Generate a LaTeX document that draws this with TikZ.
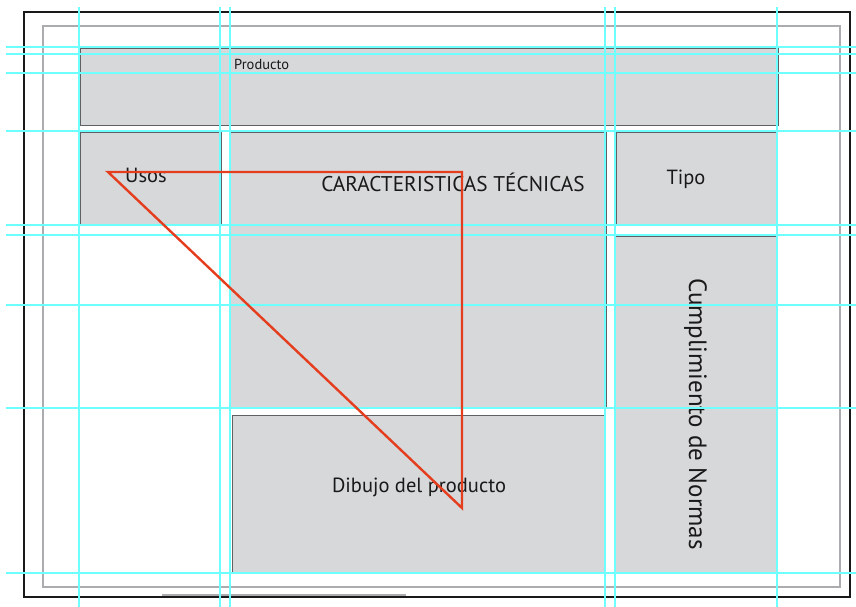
\documentclass[tikz,border=0pt]{standalone}
\usepackage{fontspec}
\setmainfont{PT Sans}
\usepackage{tikz}
\usetikzlibrary{positioning, calc}
\definecolor{panelfill}{RGB}{215,216,218}
\definecolor{panelline}{RGB}{95,96,99}
\definecolor{guidecyan}{RGB}{110,255,255}
\definecolor{pathred}{RGB}{228,62,30}
\definecolor{framegray}{RGB}{170,172,175}

\begin{document}
\begin{tikzpicture}[
    x=1pt, y=-1pt,
    panel/.style={
        rectangle, draw=panelline, line width=1.3pt,
        fill=panelfill, inner sep=0pt, anchor=north west
    },
    txt/.style={font=\fontsize{20.5}{24}\selectfont, text=black!90, inner sep=0pt},
    guide/.style={guidecyan, line width=1.4pt},
    route/.style={pathred, line width=2.4pt, line join=miter}
]
\useasboundingbox (0,0) rectangle (856,607);

% Page frames
\draw[black!90, line width=1.4pt] (24,12) rectangle (850,597);
\draw[framegray, line width=2pt] (43,26) rectangle (840,587);
\draw[framegray, line width=1.6pt] (162,595) -- (406,595);

% Producto
\node[panel, minimum width=698pt, minimum height=77pt] (producto) at (80,48) {};
\node[txt, font=\fontsize{14.5}{17}\selectfont, anchor=base west] (productotxt) at (234,70) {Producto};

% Usos
\node[panel, minimum width=141pt, minimum height=92pt] (usos) at (80,132) {};
\node[txt, anchor=base west] (usostxt) at (125,182) {Usos};

% Caracteristicas
\node[panel, minimum width=376pt, minimum height=276pt] (tecnicas) at (230,132) {};
\node[txt, font=\fontsize{21.3}{25}\selectfont, anchor=base] (tecnicastxt) at (453,191) {CARACTERISTICAS TÉCNICAS};

% Tipo
\node[panel, minimum width=161pt, minimum height=93pt] (tipo) at (616,132) {};
\node[txt, anchor=base] (tipotxt) at (686,184) {Tipo};

% Normas
\node[panel, minimum width=161pt, minimum height=337pt] (normas) at (615,236) {};
\node[txt, font=\fontsize{25}{30}\selectfont, rotate=-90, anchor=base] (normastxt) at (689,414) {Cumplimiento de Normas};

% Dibujo
\node[panel, minimum width=373pt, minimum height=158pt] (dibujo) at (232,415) {};
\node[txt, anchor=base] (dibujotxt) at (419,492) {Dibujo del producto};

% Guides
\foreach \gx in {79,220,230,605,615,777}
    \draw[guide] (\gx,7) -- (\gx,607);
\foreach \gy in {47,54,73,131,225,235,305,408,573}
    \draw[guide] (6,\gy) -- (856,\gy);

% Reading path
\coordinate (start) at (108,172);
\coordinate (turn) at (462,172);
\coordinate (finish) at (462,508);
\draw[route] (start) -- (turn) -- (finish) -- cycle;

\end{tikzpicture}
\end{document}
